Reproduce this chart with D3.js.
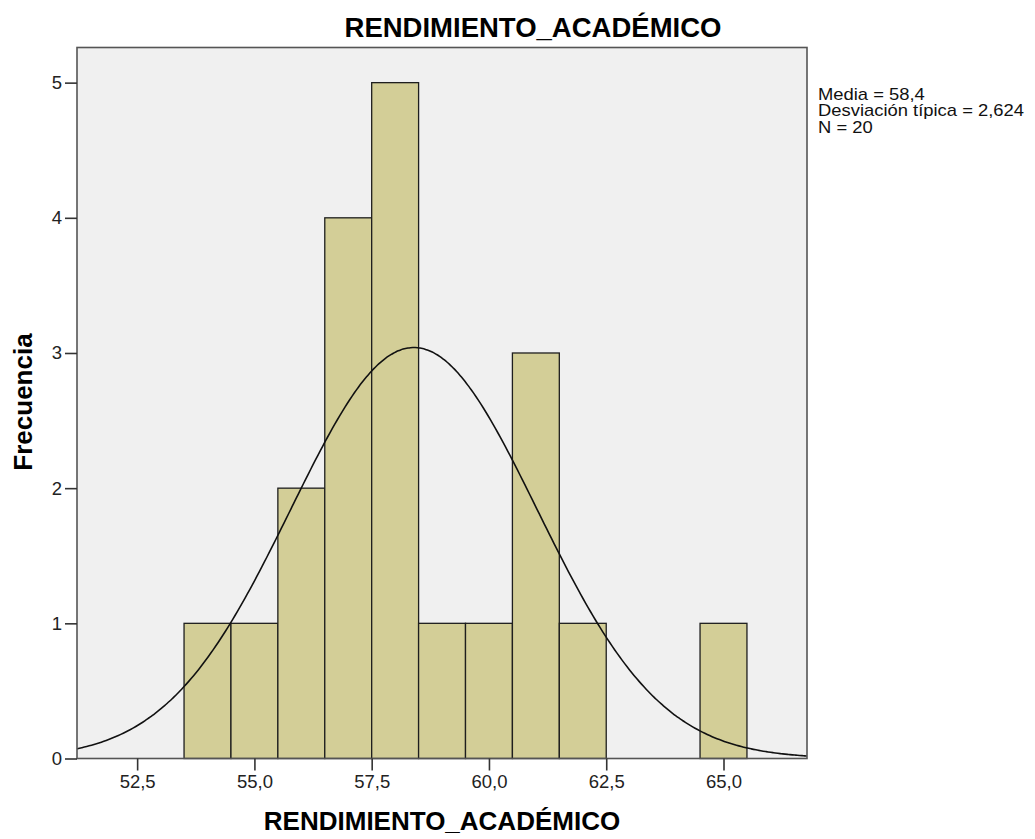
<!DOCTYPE html>
<html>
<head>
<meta charset="utf-8">
<script src="https://cdn.jsdelivr.net/npm/d3@7"></script>
<style>
  body { margin: 0; background: #fff; }
  text { font-family: "Liberation Sans", Arial, sans-serif; }
</style>
</head>
<body>
<script>
// histogram bins (lower edge, upper edge) and counts
const binStart = [53.5, 54.5, 55.5, 56.5, 57.5, 58.5, 59.5, 60.5, 61.5, 62.5, 63.5, 64.5];
const binEnd   = [54.5, 55.5, 56.5, 57.5, 58.5, 59.5, 60.5, 61.5, 62.5, 63.5, 64.5, 65.5];
const counts   = [1, 1, 2, 4, 5, 1, 1, 3, 1, 0, 0, 1];
const xTicks = [52.5, 55.0, 57.5, 60.0, 62.5, 65.0];
const yTicks = [0, 1, 2, 3, 4, 5];
const mean = 58.4, sd = 2.624, n = 20, binWidth = 1;
const statLines = ["Media = 58,4", "Desviación típica = 2,624", "N = 20"];
const title = "RENDIMIENTO_ACADÉMICO";

const w = 1035, h = 839;
const pLeft = 77, pRight = 807, pTop = 47.5, pBottom = 758.5;

const svg = d3.select("body").append("svg")
  .attr("width", w)
  .attr("height", h);

const x = d3.scaleLinear().domain([51.218, 66.78]).range([pLeft, pRight]);
const y = d3.scaleLinear().domain([0, 5.26]).range([pBottom, pTop]);

// plot background
svg.append("rect")
  .attr("x", pLeft).attr("y", pTop)
  .attr("width", pRight - pLeft).attr("height", pBottom - pTop)
  .attr("fill", "#f0f0f0");

// bars
const bars = counts.map((c, i) => ({ x0: binStart[i], x1: binEnd[i], c: c })).filter(d => d.c > 0);
svg.selectAll("rect.bar")
  .data(bars)
  .enter()
  .append("rect")
  .attr("class", "bar")
  .attr("x", d => x(d.x0))
  .attr("y", d => y(d.c))
  .attr("width", d => x(d.x1) - x(d.x0))
  .attr("height", d => y(0) - y(d.c))
  .attr("fill", "#d3ce97")
  .attr("stroke", "#1e1e1e")
  .attr("stroke-width", 1.3);

// normal curve
const pts = d3.range(0, 301).map(i => {
  const v = 51.218 + (66.78 - 51.218) * i / 300;
  const f = n * binWidth / (sd * Math.sqrt(2 * Math.PI)) * Math.exp(-0.5 * Math.pow((v - mean) / sd, 2));
  return [v, f];
});
svg.append("path")
  .datum(pts)
  .attr("fill", "none")
  .attr("stroke", "#111")
  .attr("stroke-width", 1.6)
  .attr("d", d3.line().x(d => x(d[0])).y(d => y(d[1])).curve(d3.curveBasis));

// frame
svg.append("rect")
  .attr("x", pLeft).attr("y", pTop)
  .attr("width", pRight - pLeft).attr("height", pBottom - pTop)
  .attr("fill", "none")
  .attr("stroke", "#555")
  .attr("stroke-width", 1.6);

// axes
const xAxis = d3.axisBottom(x).tickValues(xTicks).tickSize(12).tickPadding(4.5)
  .tickFormat(d => d3.format(".1f")(d).replace(".", ","));
const gx = svg.append("g").attr("transform", `translate(0,${pBottom})`).call(xAxis);
const yAxis = d3.axisLeft(y).tickValues(yTicks).tickSize(12).tickPadding(3).tickFormat(d3.format("d"));
const gy = svg.append("g").attr("transform", `translate(${pLeft},0)`).call(yAxis);
[gx, gy].forEach(g => {
  g.select(".domain").remove();
  g.selectAll(".tick line").attr("stroke", "#333").attr("stroke-width", 1.6);
  g.selectAll(".tick text").attr("fill", "#222").style("font-size", "18.5px")
    .style("font-family", "'Liberation Sans', Arial, sans-serif");
});

// titles
svg.append("text")
  .attr("x", 533).attr("y", 36.5)
  .attr("text-anchor", "middle")
  .style("font-size", "27.5px").style("font-weight", "bold")
  .text(title);
svg.append("text")
  .attr("x", 442).attr("y", 830)
  .attr("text-anchor", "middle")
  .style("font-size", "26px").style("font-weight", "bold")
  .text(title);
svg.append("text")
  .attr("transform", "translate(32,402) rotate(-90)")
  .attr("text-anchor", "middle")
  .style("font-size", "26px").style("font-weight", "bold")
  .text("Frecuencia");

// stats (wide-set text, stretched horizontally)
const stats = svg.append("g").attr("transform", "translate(818,0) scale(1.15,1)");
stats.selectAll("text.stat")
  .data(statLines)
  .enter()
  .append("text")
  .attr("class", "stat")
  .attr("x", 0)
  .attr("y", (d, i) => 100 + i * 16.5)
  .style("font-size", "16px")
  .attr("fill", "#111")
  .text(d => d);
</script>
</body>
</html>
